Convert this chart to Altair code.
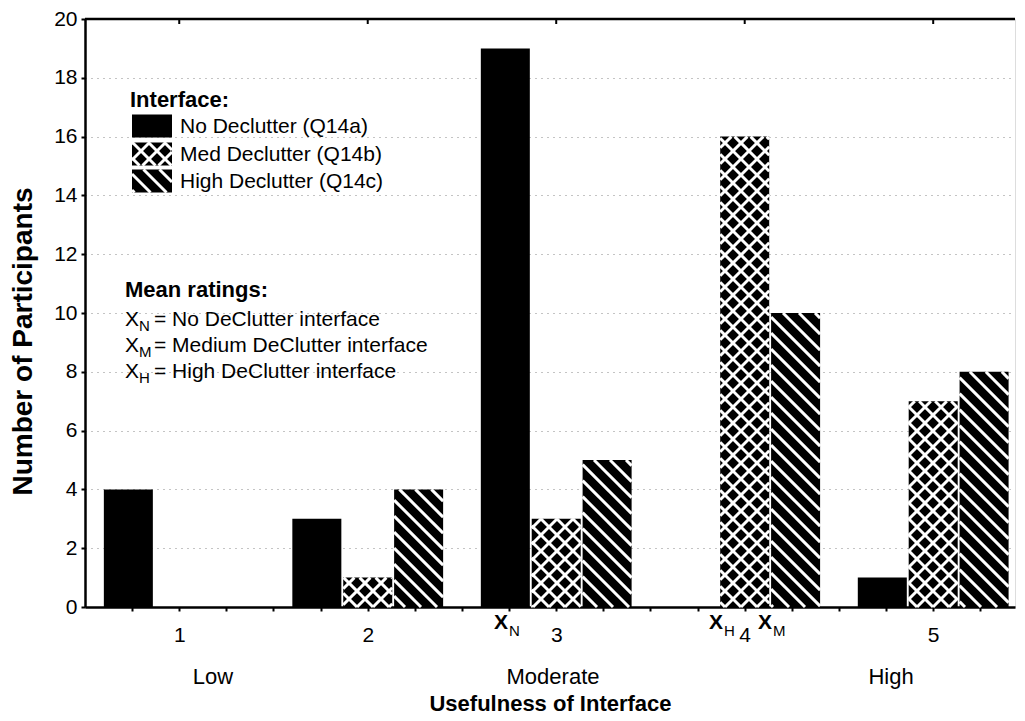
import altair as alt
import pandas as pd
import numpy as np

# ---------------- data ----------------
categories = [1, 2, 3, 4, 5]
no_declutter = [4, 3, 19, 0, 1]
med_declutter = [0, 1, 3, 16, 7]
high_declutter = [0, 4, 5, 10, 8]
series_names = ["No Declutter (Q14a)", "Med Declutter (Q14b)", "High Declutter (Q14c)"]
series_patterns = ["solid", "cross", "diag"]
mean_ratings = [2.67, 4.07, 3.81]
mean_subs = ["N", "M", "H"]
mean_texts = ["= No DeClutter interface", "= Medium DeClutter interface", "= High DeClutter interface"]
scale_names = ["Low", "Moderate", "High"]
y_ticks = list(range(0, 21, 2))
x_ticks = [0.75 + 0.25 * i for i in range(19)]
X_TITLE = "Usefulness of Interface"
Y_TITLE = "Number of Participants"

# ---------------- layout / style ----------------
FONT = "Liberation Sans"
W, H = 930, 588
XMIN, XMAX = 0.5, 5.434
YMAX = 20
SX = W / (XMAX - XMIN)
SY = H / YMAX
OFFSET = 0.27
HALF = 0.13
STEP = 16.0
LINE_W = 3

xs = alt.Scale(domain=[XMIN, XMAX], nice=False, zero=False)
ys = alt.Scale(domain=[0, YMAX], nice=False, zero=False)


def hatch(X0, X1, Y0, Y1, kind):
    """Hatch segments inside a rectangle, in pixel units with y pointing up."""
    fams = {"diag": [1], "cross": [1, -1]}.get(kind, [])
    segs = []
    for f in fams:
        if f == 1:
            cmin, cmax = X0 + Y0, X1 + Y1
        else:
            cmin, cmax = X0 - Y1, X1 - Y0
        for k in range(int(np.floor(cmin / STEP)), int(np.ceil(cmax / STEP)) + 1):
            c = k * STEP
            if f == 1:
                lo, hi = max(X0, c - Y1), min(X1, c - Y0)
                if hi - lo > 0.5:
                    segs.append((lo, c - lo, hi, c - hi))
            else:
                lo, hi = max(X0, Y0 + c), min(X1, Y1 + c)
                if hi - lo > 0.5:
                    segs.append((lo, lo - c, hi, hi - c))
    return segs


def px2x(px):
    return XMIN + px / SX


def px2y(py):
    return (H - py) / SY


# bars + hatch lines from data
values = [no_declutter, med_declutter, high_declutter]
bar_rows, hatch_rows = [], []
for s, (name, pat, vals) in enumerate(zip(series_names, series_patterns, values)):
    off = (s - 1) * OFFSET
    for c, v in zip(categories, vals):
        x0, x1 = c + off - HALF, c + off + HALF
        bar_rows.append(dict(series=name, x0=x0, x1=x1, y0=0, y1=v))
        for a, b, cc, d in hatch((x0 - XMIN) * SX, (x1 - XMIN) * SX, 0, v * SY, pat):
            hatch_rows.append(dict(x0=a / SX + XMIN, y0=b / SY, x1=cc / SX + XMIN, y1=d / SY))

bars_df = pd.DataFrame(bar_rows)
hatch_df = pd.DataFrame(hatch_rows)

# legend swatches (pixel layout converted into data units)
SW_X0, SW_X1 = 47, 87
SW_ROWS = [107, 135, 162]
SW_H = 23
sw_rows, sw_hatch = [], []
for name, pat, yc in zip(series_names, series_patterns, SW_ROWS):
    top, bot = yc - SW_H / 2, yc + SW_H / 2
    sw_rows.append(dict(series=name, x0=px2x(SW_X0), x1=px2x(SW_X1), y0=px2y(bot), y1=px2y(top)))
    for a, b, cc, d in hatch(SW_X0, SW_X1, H - bot, H - top, pat):
        sw_hatch.append(dict(x0=px2x(a), y0=b / SY, x1=px2x(cc), y1=d / SY))
sw_df = pd.DataFrame(sw_rows)
swh_df = pd.DataFrame(sw_hatch)

X_AXIS = alt.Axis(
    values=x_ticks, labelExpr="datum.value % 1 === 0 ? datum.value : ''",
    title=X_TITLE, titleFontSize=22, titleFontWeight="bold",
    titleY=96, titleBaseline="middle", titleFont=FONT, titleColor="black",
    labelFontSize=21, labelFont=FONT, labelColor="black", labelPadding=13,
    tickSize=4, tickWidth=2, tickColor="black", domainColor="black", domainWidth=2.5,
    grid=False, labelAngle=0)
Y_AXIS = alt.Axis(
    values=y_ticks, title=Y_TITLE, titleFontSize=28,
    titleFontWeight="bold", titleFont=FONT, titleColor="black", titleAngle=270,
    titleX=-62, titleY=322, titleAlign="center", titleBaseline="middle",
    labelFontSize=21, labelFont=FONT, labelColor="black", labelPadding=4,
    tickSize=4, tickWidth=2, tickColor="black", domainColor="black", domainWidth=2.5,
    grid=True, gridDash=[1, 5], gridColor="#888", gridWidth=1)


def ex(field="x0"):
    return alt.X(f"{field}:Q", scale=xs, axis=X_AXIS, title=X_TITLE)


def ey(field="y0"):
    return alt.Y(f"{field}:Q", scale=ys, axis=Y_AXIS, title=Y_TITLE)


# ---------------- layers ----------------
bars = alt.Chart(bars_df).mark_rect(color="black").encode(
    x=ex(), x2="x1:Q", y=ey(), y2="y1:Q")

hatch_layer = alt.Chart(hatch_df).mark_rule(color="white", strokeWidth=LINE_W).encode(
    x=ex(), x2="x1:Q", y=ey(), y2="y1:Q")

sw_layer = alt.Chart(sw_df).mark_rect(color="black").encode(
    x=ex(), x2="x1:Q", y=ey(), y2="y1:Q")
swh_layer = alt.Chart(swh_df).mark_rule(color="white", strokeWidth=LINE_W).encode(
    x=ex(), x2="x1:Q", y=ey(), y2="y1:Q")

top_line = alt.Chart(pd.DataFrame({"a": [0]})).mark_rule(color="black", strokeWidth=2.5).encode(
    x=alt.value(0), x2=alt.value(W), y=alt.value(0)
)
top_ticks = alt.Chart(pd.DataFrame({"x0": categories})).mark_rule(color="black", strokeWidth=2).encode(
    x=ex(), y=alt.value(0), y2=alt.value(5)
)

layers = [bars, hatch_layer, sw_layer, swh_layer, top_line, top_ticks]


def txt(text, x, y, size=21, bold=False, align="left", baseline="middle"):
    return alt.Chart(pd.DataFrame({"t": [text]})).mark_text(
        font=FONT, fontSize=size, fontWeight="bold" if bold else "normal",
        align=align, baseline=baseline, color="black",
    ).encode(x=alt.value(x), y=alt.value(y), text="t:N")


# legend texts
layers.append(txt("Interface:", 45, 81, size=22, bold=True))
for name, yc in zip(series_names, SW_ROWS):
    layers.append(txt(name, 95, yc + 1, size=21))

layers.append(txt("Mean ratings:", 40, 271, size=22, bold=True))
for i, (sub, label) in enumerate(zip(mean_subs, mean_texts)):
    yc = 301 + i * 26
    layers.append(txt("X", 40, yc, size=21))
    layers.append(txt(sub, 54, yc + 6, size=15))
    layers.append(txt(label, 69, yc, size=21))

# scale names under axis
for name, xc in zip(scale_names, [128, 468, 806]):
    layers.append(txt(name, xc, 658, size=22, align="center"))

# mean markers below axis
mean_df = pd.DataFrame({"x0": mean_ratings, "sub": mean_subs})
layers.append(alt.Chart(mean_df).mark_text(
    font=FONT, fontSize=21, fontWeight="bold", align="left", baseline="middle", color="black"
).encode(x=ex(), y=alt.value(604), text=alt.value("X")))
layers.append(alt.Chart(mean_df).mark_text(
    font=FONT, fontSize=15, align="left", baseline="middle", color="black", dx=15
).encode(x=ex(), y=alt.value(612), text="sub:N"))

chart = alt.layer(*layers).properties(
    width=W, height=H,
    autosize=alt.AutoSizeParams(type="none"),
    padding={"left": 77, "top": 11, "right": 2, "bottom": 112},
).configure_view(stroke=None).configure(background="white")

chart.save("out.html", embed_options={"renderer": "svg", "actions": False})
